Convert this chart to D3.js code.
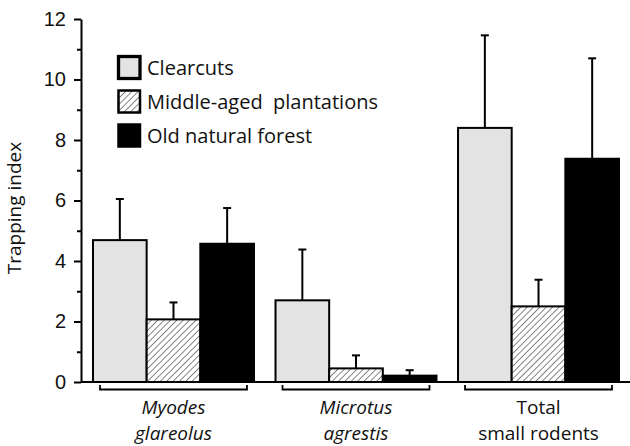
<!DOCTYPE html>
<html>
<head>
<meta charset="utf-8">
<script src="https://cdn.jsdelivr.net/npm/d3@7"></script>
<style>
  body { margin: 0; background: #fff; }
  svg { display: block; }
</style>
</head>
<body>
<div id="chart"></div>
<script>
// data
const groups = ['Myodes glareolus', 'Microtus agrestis', 'Total small rodents'];
const groupLines = [['Myodes', 'glareolus'], ['Microtus', 'agrestis'], ['Total', 'small rodents']];
const groupItalic = [true, true, false];
const series = ['Clearcuts', 'Middle-aged  plantations', 'Old natural forest'];
const clearcuts = [4.69, 2.70, 8.40];
const clearcutsErr = [1.36, 1.68, 3.06];
const middleAged = [2.07, 0.45, 2.50];
const middleAgedErr = [0.56, 0.43, 0.88];
const oldForest = [4.57, 0.21, 7.38];
const oldForestErr = [1.18, 0.18, 3.32];
const yTicks = [0, 2, 4, 6, 8, 10, 12];
const yMinor = [1, 3, 5, 7, 9, 11];

const means = [clearcuts, middleAged, oldForest];
const errs = [clearcutsErr, middleAgedErr, oldForestErr];
const fills = ['#e3e3e3', 'url(#hatch)', '#000'];

const W = 630, H = 446;
const font = 'Open Sans, sans-serif';
const svg = d3.select('#chart').append('svg').attr('width', W).attr('height', H);

const defs = svg.append('defs');
const pat = defs.append('pattern').attr('id', 'hatch')
  .attr('patternUnits', 'userSpaceOnUse').attr('width', 4.5).attr('height', 4.5)
  .attr('patternTransform', 'rotate(45)');
pat.append('rect').attr('width', 4.5).attr('height', 4.5).attr('fill', '#fff');
pat.append('line').attr('x1', 0).attr('y1', 0).attr('x2', 0).attr('y2', 4.5)
  .attr('stroke', '#444').attr('stroke-width', 1.3);

const y = d3.scaleLinear().domain([0, 12]).range([382, 19]);
const x0 = d3.scaleBand().domain(groups).range([93, 619]).paddingInner(0.118).paddingOuter(0);
const x1 = d3.scaleBand().domain(series).range([0, x0.bandwidth()]).padding(0);

// bars + error bars
groups.forEach((g, gi) => {
  series.forEach((s, si) => {
    const v = means[si][gi], e = errs[si][gi];
    const bx = x0(g) + x1(s), bw = x1.bandwidth();
    const cx = bx + bw / 2;
    svg.append('line').attr('x1', cx).attr('x2', cx)
      .attr('y1', y(v)).attr('y2', y(v + e))
      .attr('stroke', '#000').attr('stroke-width', 2);
    svg.append('line').attr('x1', cx - 4).attr('x2', cx + 4)
      .attr('y1', y(v + e)).attr('y2', y(v + e))
      .attr('stroke', '#000').attr('stroke-width', 2);
    svg.append('rect').attr('x', bx).attr('y', y(v))
      .attr('width', bw).attr('height', y(0) - y(v))
      .attr('fill', fills[si]).attr('stroke', '#000').attr('stroke-width', 2);
  });
});

// y axis
const axisX = 81;
const yAxis = svg.append('g').attr('transform', `translate(${axisX},0)`)
  .call(d3.axisLeft(y).tickValues(yTicks).tickFormat(d3.format('d')).tickSize(7).tickSizeOuter(0).tickPadding(8));
yAxis.select('.domain').attr('stroke-width', 2);
yAxis.selectAll('.tick line').attr('stroke-width', 2);
yAxis.selectAll('.tick text').attr('font-family', 'Liberation Sans, Arial, sans-serif')
  .attr('font-size', 20).attr('fill', '#111');
svg.append('g').attr('transform', `translate(${axisX},0)`)
  .call(d3.axisLeft(y).tickValues(yMinor).tickFormat('').tickSize(4).tickSizeOuter(0))
  .call(g => g.select('.domain').remove())
  .selectAll('.tick line').attr('stroke-width', 2);

// baseline
svg.append('line').attr('x1', axisX).attr('x2', W).attr('y1', y(0)).attr('y2', y(0))
  .attr('stroke', '#000').attr('stroke-width', 2);

svg.append('text')
  .attr('transform', `translate(21,208) rotate(-90)`)
  .attr('text-anchor', 'middle')
  .attr('font-family', font).attr('font-size', 19).attr('fill', '#111')
  .text('Trapping index');

// group brackets and labels
groups.forEach((g, gi) => {
  const a = x0(g) + 7, b = x0(g) + x0.bandwidth() - 7;
  svg.append('path')
    .attr('d', `M${a},385 V389.5 H${b} V385`)
    .attr('fill', 'none').attr('stroke', '#000').attr('stroke-width', 1.8);
  const cx = x0(g) + x0.bandwidth() / 2;
  groupLines[gi].forEach((t, li) => {
    svg.append('text').attr('x', cx).attr('y', 414 + li * 26)
      .attr('text-anchor', 'middle')
      .attr('font-family', font).attr('font-size', 19)
      .attr('font-style', groupItalic[gi] ? 'italic' : 'normal').attr('fill', '#111')
      .text(t);
  });
});

// legend
const leg = svg.append('g');
series.forEach((s, si) => {
  const ly = 56.5 + si * 34;
  leg.append('rect').attr('x', 118.5).attr('y', ly).attr('width', 21.5).attr('height', 22)
    .attr('fill', fills[si]).attr('stroke', '#000').attr('stroke-width', si === 0 ? 3.3 : 2.5);
  leg.append('text').attr('x', 147).attr('y', ly + 18)
    .attr('font-family', font).attr('font-size', 20).attr('fill', '#111')
    .attr('xml:space', 'preserve')
    .text(s);
});
</script>
</body>
</html>
